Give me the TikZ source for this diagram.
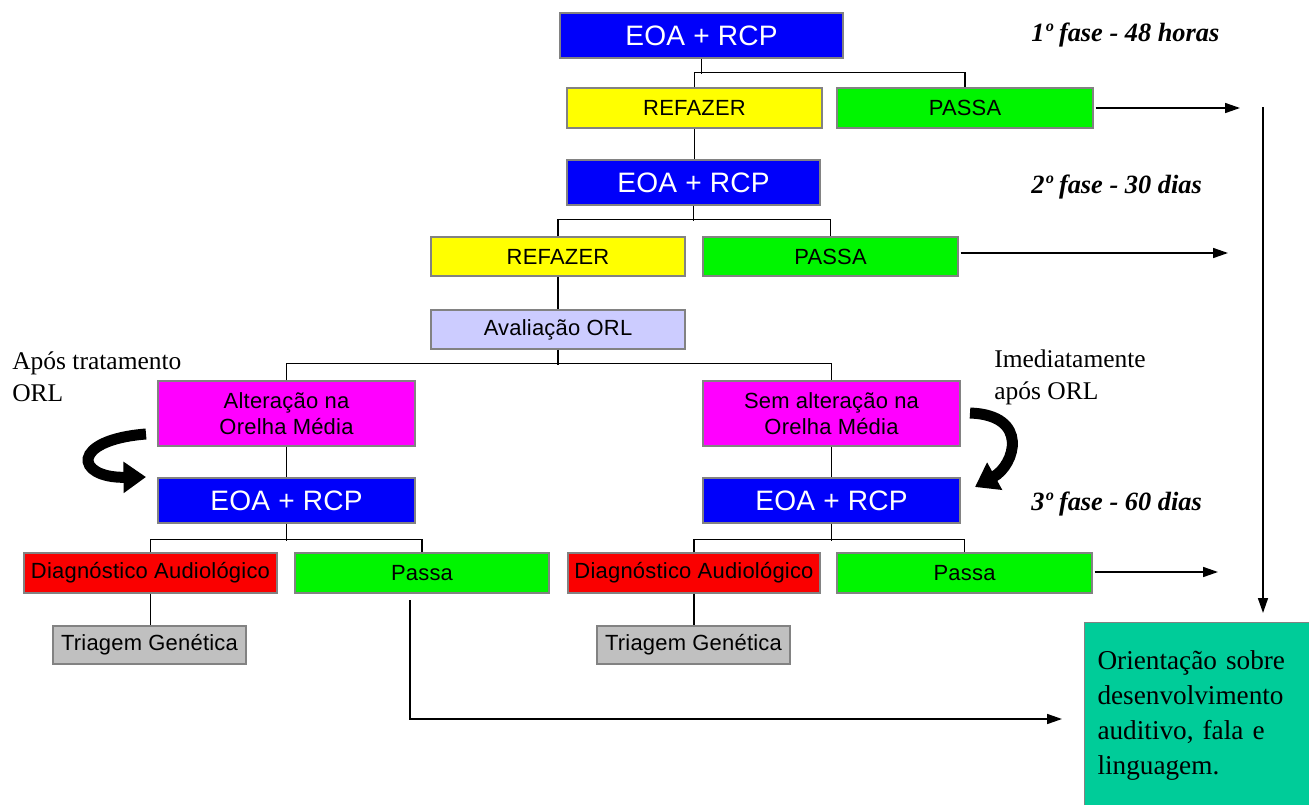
\documentclass[tikz,border=0pt]{standalone}
\usepackage{fontspec}
\setmainfont{Liberation Serif}
\newfontfamily\arialf[LetterSpace=1]{Liberation Sans}
\usetikzlibrary{arrows.meta}
\definecolor{cblue}{RGB}{0,0,250}
\definecolor{cyellow}{RGB}{255,255,0}
\definecolor{cgreen}{RGB}{0,245,0}
\definecolor{cmagenta}{RGB}{255,0,255}
\definecolor{cred}{RGB}{250,0,0}
\definecolor{cgrey}{RGB}{192,192,192}
\definecolor{clav}{RGB}{204,204,255}
\definecolor{cteal}{RGB}{0,204,153}
\definecolor{cborder}{RGB}{130,130,130}
\tikzset{
  box/.style={draw=cborder, line width=0.6pt, inner sep=0pt, align=center,
    font=\arialf\fontsize{12.5}{14.8}\selectfont},
  wh/.style 2 args={minimum width=#1*0.02cm, minimum height=#2*0.02cm},
  bigbox/.style={box, fill=cblue, text=white, font=\arialf\fontsize{16}{19}\selectfont},
  link/.style={draw=black, line width=0.9pt},
  arr/.style={link, -{Triangle[length=0.3cm,width=0.2cm]}},
  bigarrow/.style={draw=black, line width=0.22cm, -{Triangle[length=0.45cm,width=0.6cm]}},
  fase/.style={font=\bfseries\itshape\fontsize{15}{17}\selectfont, anchor=base west, inner sep=0pt},
  note/.style={font=\fontsize{14.5}{18.2}\selectfont, align=left, anchor=west, inner sep=0pt},
}
\begin{document}
\begin{tikzpicture}[x=0.02cm,y=-0.02cm]
\useasboundingbox (0,0) rectangle (1309,805);
% phase 1
\node[bigbox, wh={283}{45}] (eoa1) at (701.5,35.5) {EOA + RCP};
\node[box, wh={255}{40}, fill=cyellow] (ref1) at (694.5,108) {REFAZER};
\node[box, wh={256}{40}, fill=cgreen] (pas1) at (965,108) {PASSA};
% phase 2
\node[bigbox, wh={253}{45}] (eoa2) at (693.5,182.5) {EOA + RCP};
\node[box, wh={254}{39}, fill=cyellow] (ref2) at (558,256.5) {REFAZER};
\node[box, wh={255}{39}, fill=cgreen] (pas2) at (830.5,256.5) {PASSA};
\node[box, wh={254}{39}, fill=clav] (orl) at (558,329.5) {Avaliação ORL};
% branches
\node[box, wh={257}{65}, fill=cmagenta] (altL) at (286.5,413.5) {Alteração na\\Orelha Média};
\node[box, wh={257}{65}, fill=cmagenta] (altR) at (831.5,413.5) {Sem alteração na\\Orelha Média};
\node[bigbox, wh={257}{45}] (eoaL) at (286.5,500.5) {EOA + RCP};
\node[bigbox, wh={257}{45}] (eoaR) at (831.5,500.5) {EOA + RCP};
\node[box, wh={253}{40}, fill=cred] (diaL) at (150.5,573) {Diagnóstico Audiológico};
\node[box, wh={254}{40}, fill=cgreen] (pasL) at (422,573) {Passa};
\node[box, wh={252}{40}, fill=cred] (diaR) at (694,573) {Diagnóstico Audiológico};
\node[box, wh={255}{40}, fill=cgreen] (pasR) at (964.5,573) {Passa};
\node[box, wh={193}{38}, fill=cgrey] (triL) at (149.5,645) {Triagem Genética};
\node[box, wh={193}{38}, fill=cgrey] (triR) at (693.5,645) {Triagem Genética};
% final box
\node[draw=cborder, line width=0.6pt, fill=cteal, anchor=north west, wh={230}{186},
      inner xsep=0.26cm, inner ysep=0pt, text width=4.3cm, align=left,
      font=\fontsize{15.5}{19.8}\selectfont] (ori) at (1084,622)
      {Orientação sobre\\desenvolvimento\\auditivo, fala e\\linguagem.};
% labels
\node[fase] (f1) at (1031,41) {1º fase - 48 horas};
\node[fase] (f2) at (1031,193) {2º fase - 30 dias};
\node[fase] (f3) at (1031,510) {3º fase - 60 dias};
\node[note] (n1) at (12,377) {Após tratamento\\ORL};
\node[note] (n2) at (994,377) {Imediatamente\\após ORL};
% tree connectors
\draw[link] (eoa1.south) -- ++(0,15);
\draw[link] (ref1.north) -- ++(0,-15) -| (pas1.north);
\draw[link] (ref1.south) -- (ref1.south |- eoa2.north);
\draw[link] (eoa2.south) -- ++(0,15);
\draw[link] (ref2.north) -- ++(0,-17) -| (pas2.north);
\draw[link] (ref2.south) -- (orl.north);
\draw[link] (orl.south) -- ++(0,15);
\draw[link] (altL.north) -- ++(0,-17) -| (altR.north);
\draw[link] (altL.south) -- (eoaL.north);
\draw[link] (altR.south) -- (eoaR.north);
\draw[link] (eoaL.south) -- ++(0,17);
\draw[link] (diaL.north) -- ++(0,-13) -| (pasL.north);
\draw[link] (eoaR.south) -- ++(0,17);
\draw[link] (diaR.north) -- ++(0,-13) -| (pasR.north);
\draw[link] (diaL.south) -- (diaL.south |- triL.north);
\draw[link] (diaR.south) -- (diaR.south |- triR.north);
% arrows to the right
\coordinate (e1) at (1240,108);
\coordinate (e2) at (1228,253);
\coordinate (e3) at (1218,572);
\coordinate (v1) at (1263,107);
\coordinate (v2) at (1263,613);
\coordinate (ps) at (410,600);
\coordinate (pe) at (1062,719);
\draw[arr] ([xshift=0.04cm]pas1.east) -- (e1);
\draw[arr] ([xshift=0.04cm]pas2.east |- e2) -- (e2);
\draw[arr] ([xshift=0.04cm]pasR.east |- e3) -- (e3);
\draw[arr] (v1) -- (v2);
\draw[arr] (ps) |- (pe);
% curved arrows
\coordinate (cl1) at (146,434);
\coordinate (cl2) at (146,477);
\coordinate (cr1) at (970,413);
\coordinate (cr2) at (975,487);
\draw[bigarrow] (cl1) .. controls (70,440) and (75,478) .. (cl2);
\draw[bigarrow] (cr1) .. controls (1030,415) and (1015,465) .. (cr2);
\end{tikzpicture}
\end{document}
